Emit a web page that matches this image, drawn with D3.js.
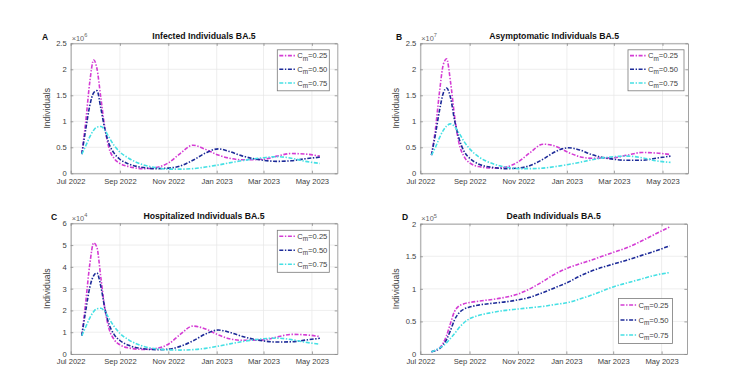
<!DOCTYPE html>
<html>
<head>
<meta charset="utf-8">
<script src="https://cdn.jsdelivr.net/npm/d3@7"></script>
<style>
	body { margin: 0; background: #fff; }
	svg { display: block; font-family: 'Liberation Sans', Arial, sans-serif; }
</style>
</head>
<body>
<svg id="fig" width="755" height="381"></svg>
<script>
// sample dates shared by every series
const dates = [
	'2022-07-15', '2022-07-20', '2022-07-25', '2022-07-30', '2022-08-03', '2022-08-08',
	'2022-08-13', '2022-08-18', '2022-08-25', '2022-09-01', '2022-09-12', '2022-10-01',
	'2022-10-16', '2022-11-01', '2022-11-16', '2022-12-02', '2022-12-18', '2023-01-03',
	'2023-01-17', '2023-02-01', '2023-03-01', '2023-03-18', '2023-04-05', '2023-04-23',
	'2023-05-11',
];
const xTicks = ['2022-07-01', '2022-09-01', '2022-11-01', '2023-01-01', '2023-03-01', '2023-05-01'];
const legendLabels = ['0.25', '0.50', '0.75'];

// A: infected (x1e6)
const infected025 = [0.37, 1.0, 1.75, 2.18, 2.02, 1.45, 0.88, 0.50, 0.28, 0.19, 0.13, 0.09, 0.11, 0.20, 0.38, 0.54, 0.46, 0.35, 0.29, 0.26, 0.27, 0.33, 0.38, 0.37, 0.33];
const infected050 = [0.37, 0.85, 1.30, 1.55, 1.59, 1.25, 0.85, 0.58, 0.38, 0.27, 0.18, 0.11, 0.09, 0.10, 0.14, 0.25, 0.39, 0.47, 0.42, 0.34, 0.25, 0.23, 0.24, 0.28, 0.31];
const infected075 = [0.37, 0.53, 0.70, 0.83, 0.89, 0.90, 0.83, 0.70, 0.53, 0.41, 0.29, 0.16, 0.11, 0.08, 0.08, 0.09, 0.12, 0.16, 0.20, 0.24, 0.30, 0.32, 0.29, 0.23, 0.19];
// B: asymptomatic (x1e7)
const asympt025 = [0.35, 0.85, 1.55, 2.10, 2.20, 1.75, 1.10, 0.62, 0.32, 0.20, 0.13, 0.10, 0.12, 0.22, 0.40, 0.56, 0.52, 0.40, 0.32, 0.29, 0.30, 0.35, 0.40, 0.39, 0.36];
const asympt050 = [0.35, 0.75, 1.20, 1.55, 1.64, 1.45, 1.02, 0.70, 0.42, 0.29, 0.18, 0.11, 0.09, 0.10, 0.15, 0.27, 0.42, 0.49, 0.45, 0.36, 0.27, 0.25, 0.25, 0.29, 0.33];
const asympt075 = [0.35, 0.50, 0.68, 0.83, 0.91, 0.95, 0.90, 0.79, 0.61, 0.47, 0.32, 0.18, 0.12, 0.09, 0.09, 0.10, 0.13, 0.17, 0.21, 0.26, 0.32, 0.33, 0.30, 0.24, 0.21];
// C: hospitalized (x1e4)
const hosp025 = [0.84, 2.4, 4.1, 5.1, 4.9, 3.5, 2.1, 1.2, 0.65, 0.42, 0.28, 0.21, 0.25, 0.45, 0.90, 1.28, 1.15, 0.88, 0.70, 0.63, 0.65, 0.78, 0.90, 0.88, 0.80];
const hosp050 = [0.84, 2.0, 3.05, 3.6, 3.72, 3.1, 2.1, 1.4, 0.88, 0.62, 0.40, 0.24, 0.20, 0.22, 0.35, 0.60, 0.92, 1.10, 1.00, 0.82, 0.60, 0.55, 0.56, 0.64, 0.72];
const hosp075 = [0.84, 1.25, 1.65, 1.95, 2.08, 2.1, 1.95, 1.65, 1.25, 0.95, 0.65, 0.35, 0.24, 0.19, 0.18, 0.20, 0.26, 0.36, 0.46, 0.56, 0.70, 0.73, 0.66, 0.54, 0.45];
// D: deaths (x1e5)
const death025 = [0.035, 0.055, 0.09, 0.17, 0.28, 0.47, 0.65, 0.73, 0.77, 0.79, 0.81, 0.84, 0.87, 0.92, 1.00, 1.11, 1.23, 1.32, 1.38, 1.44, 1.56, 1.63, 1.73, 1.84, 1.95];
const death050 = [0.035, 0.05, 0.08, 0.14, 0.22, 0.36, 0.52, 0.62, 0.69, 0.72, 0.75, 0.78, 0.80, 0.83, 0.87, 0.94, 1.02, 1.10, 1.19, 1.27, 1.38, 1.44, 1.51, 1.58, 1.66];
const death075 = [0.035, 0.06, 0.09, 0.13, 0.17, 0.24, 0.31, 0.39, 0.48, 0.54, 0.59, 0.64, 0.67, 0.69, 0.71, 0.73, 0.76, 0.79, 0.84, 0.90, 1.03, 1.09, 1.15, 1.21, 1.25];

const colors = ['#d43cd4', '#1c2a98', '#45e0e4'];
const parse = d3.timeParse('%Y-%m-%d');
const svg = d3.select('#fig');

const panels = [
	{ letter: 'A', title: 'Infected Individuals BA.5', exp: '6', yMax: 2.5, yStep: 0.5,
		series: [infected025, infected050, infected075],
		box: [70.7, 43.3, 337.3, 173.3], legend: { right: 8, top: 6.5, w: 52, h: 41 }, letterX: 45 },
	{ letter: 'B', title: 'Asymptomatic Individuals BA.5', exp: '7', yMax: 2.5, yStep: 0.5,
		series: [asympt025, asympt050, asympt075],
		box: [420.3, 43.3, 688, 173.3], legend: { right: 4, top: 6.5, w: 56, h: 41 }, letterX: 399 },
	{ letter: 'C', title: 'Hospitalized Individuals BA.5', exp: '4', yMax: 6, yStep: 1,
		series: [hosp025, hosp050, hosp075],
		box: [70.7, 223.3, 337.3, 354], legend: { right: 8, top: 7, w: 52, h: 42 }, letterX: 54 },
	{ letter: 'D', title: 'Death Individuals BA.5', exp: '5', yMax: 2, yStep: 0.5,
		series: [death025, death050, death075],
		box: [420.3, 223.7, 687, 354], legend: { right: 14.5, bottom: 10.5, w: 54, h: 45 }, letterX: 405 },
];

const axisGrey = '#8a8a8a';
const textGrey = '#404040';

panels.forEach(p => {
	const [x0, y0, x1, y1] = p.box;
	const x = d3.scaleTime().domain([parse('2022-07-01'), parse('2023-06-02')]).range([x0, x1]);
	const y = d3.scaleLinear().domain([0, p.yMax]).range([y1, y0]);
	const yTicks = d3.range(0, p.yMax + 1e-9, p.yStep);
	const xt = xTicks.map(parse);
	const g = svg.append('g');

	// grid
	g.append('g').selectAll('line').data(xt).join('line')
		.attr('x1', d => x(d)).attr('x2', d => x(d)).attr('y1', y0).attr('y2', y1)
		.attr('stroke', '#e6e6e6').attr('stroke-width', 0.7);
	g.append('g').selectAll('line').data(yTicks).join('line')
		.attr('x1', x0).attr('x2', x1).attr('y1', d => y(d)).attr('y2', d => y(d))
		.attr('stroke', '#e6e6e6').attr('stroke-width', 0.7);

	// series
	const line = d3.line().x((d, i) => x(parse(dates[i]))).y(d => y(d)).curve(d3.curveMonotoneX);
	p.series.forEach((s, k) => {
		g.append('path').datum(s).attr('d', line)
			.attr('fill', 'none').attr('stroke', colors[k]).attr('stroke-width', 1.6)
			.attr('stroke-dasharray', '4,1.6,1.4,1.6');
	});

	// axes (MATLAB style, ticks inward on all four sides)
	const fmtX = d3.timeFormat('%b %Y');
	g.append('g').attr('transform', `translate(0,${y1})`)
		.call(d3.axisBottom(x).tickValues(xt).tickFormat(fmtX).tickSize(-2.6).tickPadding(5).tickSizeOuter(0));
	g.append('g').attr('transform', `translate(${x0},0)`)
		.call(d3.axisLeft(y).tickValues(yTicks).tickFormat(d3.format('~g')).tickSize(-2.6).tickPadding(4).tickSizeOuter(0));
	g.append('g').attr('transform', `translate(0,${y0})`)
		.call(d3.axisTop(x).tickValues(xt).tickFormat('').tickSize(-2.6).tickSizeOuter(0));
	g.append('g').attr('transform', `translate(${x1},0)`)
		.call(d3.axisRight(y).tickValues(yTicks).tickFormat('').tickSize(-2.6).tickSizeOuter(0));
	g.selectAll('.domain, .tick line').attr('stroke', axisGrey).attr('stroke-width', 0.8);
	g.selectAll('.tick text').attr('fill', textGrey).attr('font-size', 7.6)
		.attr('font-family', "'Liberation Sans', Arial, sans-serif");

	// exponent label
	const ex = g.append('text').attr('x', x0 + 1).attr('y', y0 - 2.5)
		.attr('fill', '#666').attr('font-size', 7.4);
	ex.append('tspan').text('×10');
	ex.append('tspan').attr('dy', -3.5).attr('font-size', 5.6).text(p.exp);

	// y label
	g.append('text')
		.attr('transform', `translate(${x0 - 21},${(y0 + y1) / 2}) rotate(-90)`)
		.attr('text-anchor', 'middle').attr('fill', textGrey).attr('font-size', 8.6)
		.text('Individuals');

	// title and letter
	g.append('text').attr('x', (x0 + x1) / 2).attr('y', y0 - 4.3)
		.attr('text-anchor', 'middle').attr('font-weight', 'bold').attr('font-size', 8.7)
		.attr('fill', '#111').text(p.title);
	g.append('text').attr('x', p.letterX).attr('y', y0 - 3.5)
		.attr('text-anchor', 'middle').attr('font-weight', 'bold').attr('font-size', 8.5)
		.attr('fill', '#111').text(p.letter);

	// legend
	const L = p.legend;
	const lx = x1 - L.right - L.w;
	const ly = L.top !== undefined ? y0 + L.top : y1 - L.bottom - L.h;
	const lg = g.append('g').attr('transform', `translate(${lx},${ly})`);
	lg.append('rect').attr('width', L.w).attr('height', L.h)
		.attr('fill', '#fff').attr('stroke', '#7a7a7a').attr('stroke-width', 0.8);
	const rowH = L.h / 3;
	legendLabels.forEach((lab, k) => {
		const cy = rowH * (k + 0.5) - 1;
		lg.append('line').attr('x1', 2).attr('x2', 18).attr('y1', cy).attr('y2', cy)
			.attr('stroke', colors[k]).attr('stroke-width', 1.6)
			.attr('stroke-dasharray', '4,1.6,1.4,1.6');
		const t = lg.append('text').attr('x', 20).attr('y', cy + 2.6)
			.attr('fill', textGrey).attr('font-size', 7.6);
		t.append('tspan').text('C');
		t.append('tspan').attr('dy', 2.6).attr('font-size', 6.4).text('m');
		t.append('tspan').attr('dy', -2.6).text('=' + lab);
	});
});
</script>
</body>
</html>
